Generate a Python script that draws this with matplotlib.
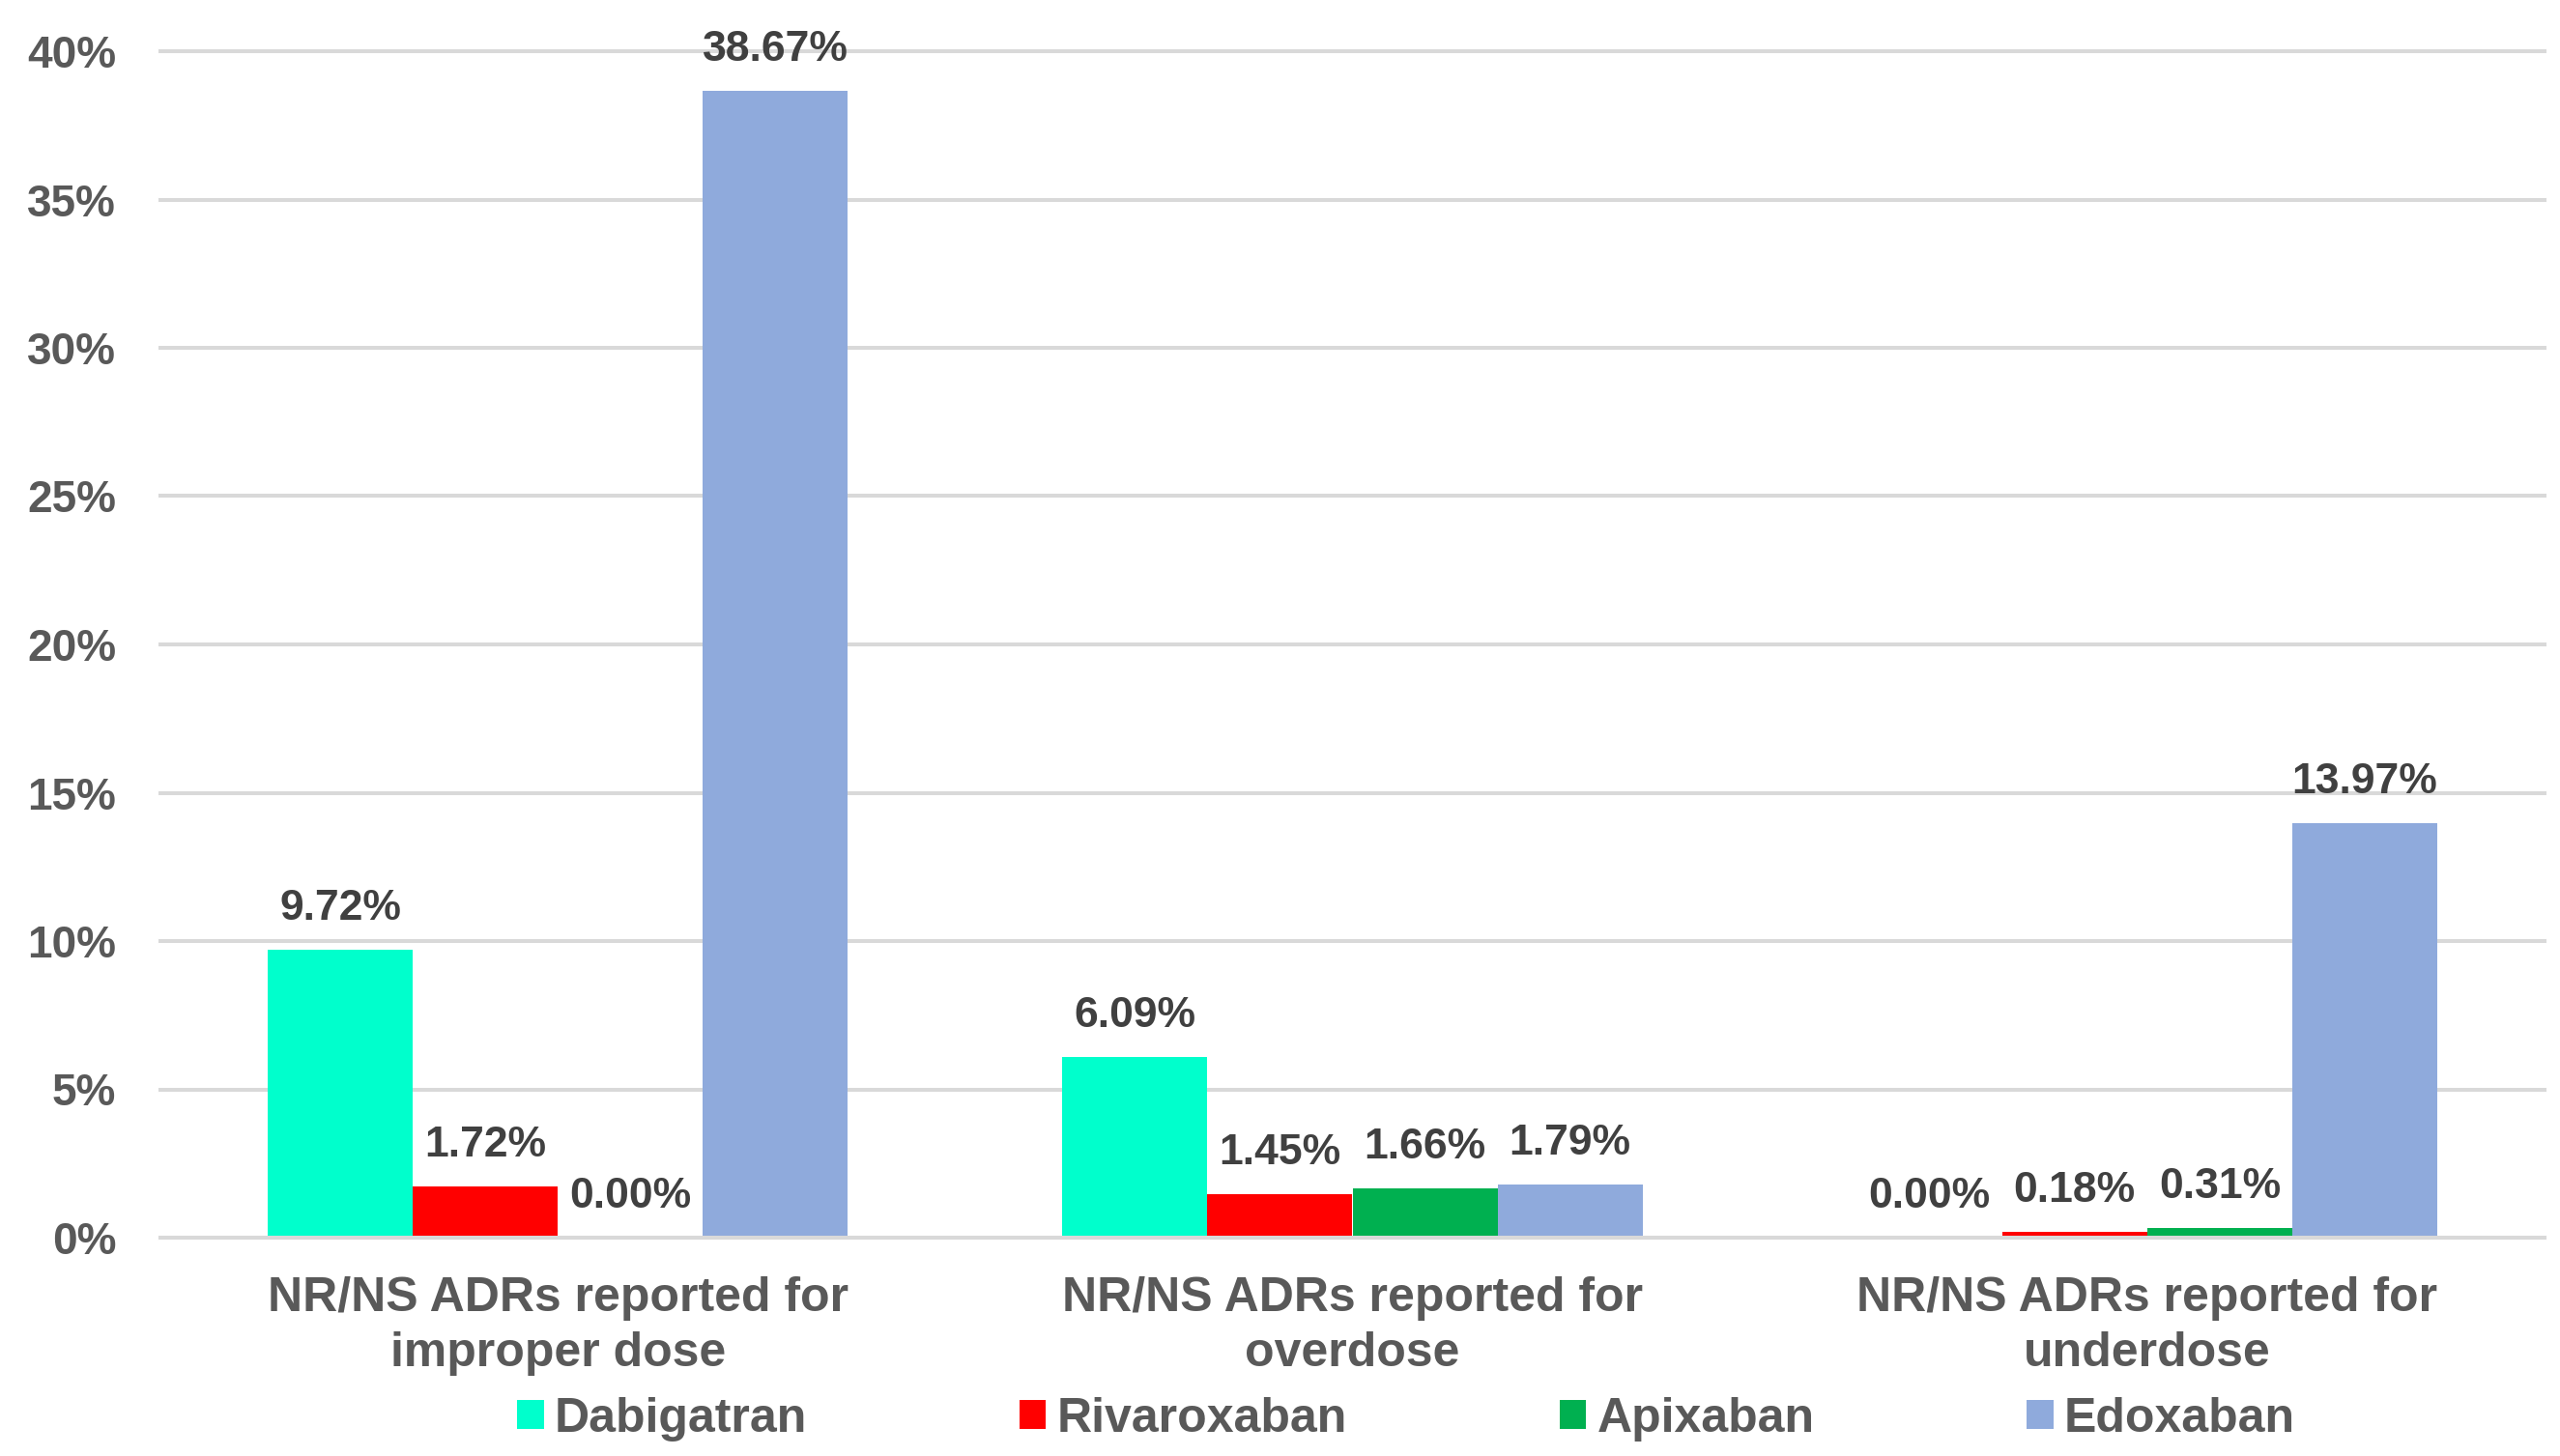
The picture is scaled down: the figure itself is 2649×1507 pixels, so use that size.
import numpy as np
import matplotlib
matplotlib.use("Agg")
import matplotlib.pyplot as plt

categories = ["NR/NS ADRs reported for\nimproper dose",
              "NR/NS ADRs reported for\noverdose",
              "NR/NS ADRs reported for\nunderdose"]
drugs = ["Dabigatran", "Rivaroxaban", "Apixaban", "Edoxaban"]
dabigatran = [9.72, 6.09, 0.00]
rivaroxaban = [1.72, 1.45, 0.18]
apixaban = [0.00, 1.66, 0.31]
edoxaban = [38.67, 1.79, 13.97]
colors = ["#00FFCC", "#FF0000", "#00B050", "#8FAADC"]
yticks = [0, 5, 10, 15, 20, 25, 30, 35, 40]

plt.rcParams['font.family'] = ['Liberation Sans', 'DejaVu Sans']
plt.rcParams['font.weight'] = 'bold'

W, H = 2649, 1507
fig = plt.figure(figsize=(W / 100, H / 100), dpi=100)
ax = fig.add_axes([166 / W, (H - 1281) / H, (2633 - 166) / W, (1281 - 53) / H])

series = [dabigatran, rivaroxaban, apixaban, edoxaban]
x = np.arange(len(categories))
w = 0.1825
for i, (vals, name, c) in enumerate(zip(series, drugs, colors)):
    pos = x + (i - 1.5) * w
    ax.bar(pos, vals, width=w, color=c, label=name, zorder=2)
    for px, v in zip(pos, vals):
        ax.annotate(f"{v:.2f}%", (px, v), xytext=(0, 31), textcoords='offset pixels',
                    ha='center', va='baseline', fontsize=32, color='#404040',
                    fontweight='bold')

ax.set_xlim(-0.5, 2.5)
ax.set_ylim(0, 40)
ax.set_yticks(yticks)
ax.set_yticklabels([f"{t}%" for t in yticks])
ax.set_xticks(x)
ax.set_xticklabels(categories, fontsize=36, color='#595959', linespacing=1.3)
ax.tick_params(axis='y', length=0, pad=33, labelsize=33, labelcolor='#595959')
ax.tick_params(axis='x', length=0, pad=29)

ax.yaxis.grid(True, color='#D9D9D9', linewidth=2.9, zorder=0)
ax.set_axisbelow(True)
for gl in ax.get_ygridlines():
    gl.set_clip_on(False)
for s in ['top', 'right', 'left']:
    ax.spines[s].set_visible(False)
ax.spines['bottom'].set_color('#D9D9D9')
ax.spines['bottom'].set_linewidth(2.9)
ax.spines['bottom'].set_zorder(3)

leg = fig.legend(loc='center', bbox_to_anchor=(1455 / W, 1 - 1469 / H), ncol=4,
                 frameon=False, fontsize=36, handlelength=0.55, handleheight=0.55,
                 handletextpad=0.22, columnspacing=4.4)
for t in leg.get_texts():
    t.set_color('#595959')

fig.savefig("out.png", dpi=100)
